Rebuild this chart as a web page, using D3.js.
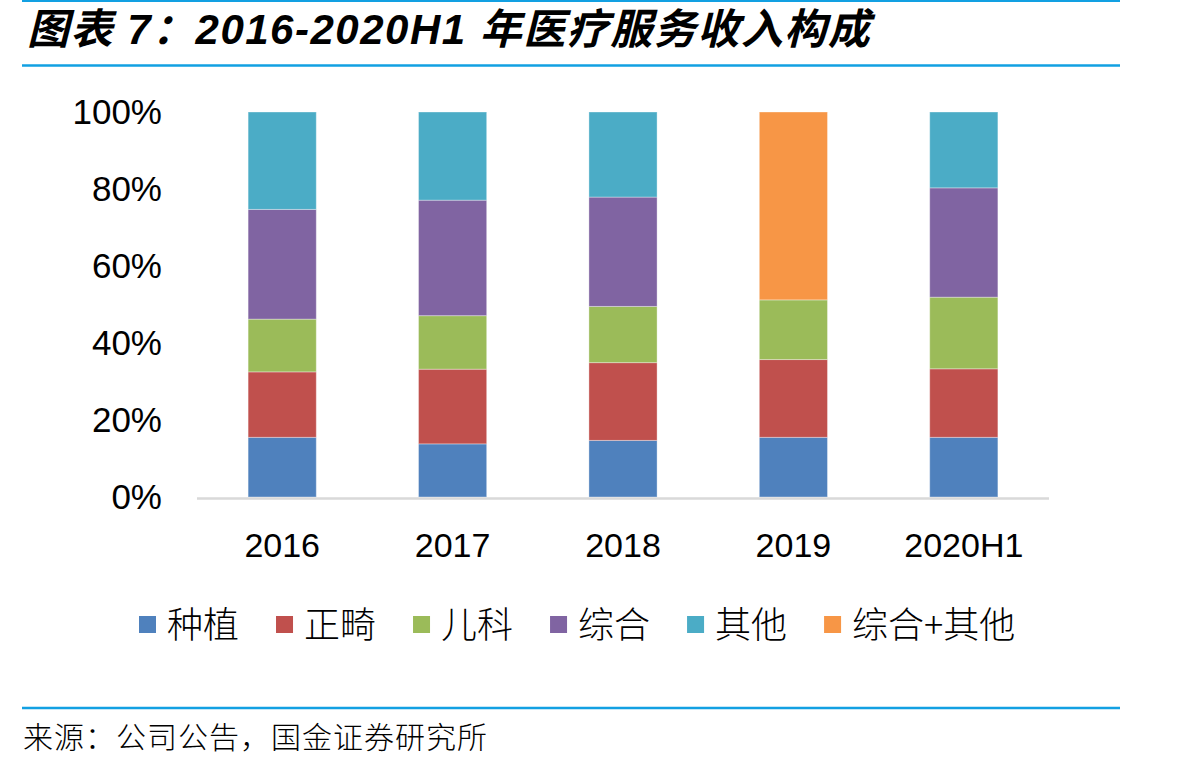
<!DOCTYPE html>
<html>
<head>
<meta charset="utf-8">
<script src="https://cdn.jsdelivr.net/npm/d3@7"></script>
<style>
  html, body { margin: 0; padding: 0; background: #fff; }
  svg { display: block; }
</style>
</head>
<body>
<svg id="chart" width="1201" height="763"></svg>
<script>
// ---- Data ----
const categories = ["2016", "2017", "2018", "2019", "2020H1"];
const seriesNames = ["种植", "正畸", "儿科", "综合", "其他", "综合+其他"];
const zhongzhi   = [15.5, 13.8, 14.7, 15.5, 15.5];
const zhengji    = [17.0, 19.4, 20.2, 20.2, 17.8];
const erke       = [13.7, 13.9, 14.6, 15.5, 18.6];
const zonghe     = [28.5, 30.0, 28.4, 0, 28.4];
const qita       = [25.3, 22.9, 22.1, 0, 19.7];
const zongheQita = [0, 0, 0, 48.8, 0];
const yTicks = [0, 20, 40, 60, 80, 100];
const colors = ["#4F81BD", "#C0504D", "#9BBB59", "#8064A2", "#4BACC6", "#F79646"];

const titleText = "图表 7：2016-2020H1 年医疗服务收入构成";
const sourceText = "来源：公司公告，国金证券研究所";

const seriesValues = [zhongzhi, zhengji, erke, zonghe, qita, zongheQita];
const table = categories.map((c, i) => {
  const row = { cat: c };
  seriesNames.forEach((s, j) => row[s] = seriesValues[j][i]);
  return row;
});

const svg = d3.select("#chart");
const lineColor = "#12A0E2";

// Header / footer lines
svg.append("line").attr("x1", 22).attr("x2", 1120).attr("y1", 1).attr("y2", 1)
  .attr("stroke", lineColor).attr("stroke-width", 2);
svg.append("line").attr("x1", 22).attr("x2", 1120).attr("y1", 65.5).attr("y2", 65.5)
  .attr("stroke", lineColor).attr("stroke-width", 2.5);
svg.append("line").attr("x1", 22).attr("x2", 1120).attr("y1", 708).attr("y2", 708)
  .attr("stroke", lineColor).attr("stroke-width", 2.5);

// Title
svg.append("text").attr("x", 27).attr("y", 44)
  .attr("font-style", "italic").attr("font-weight", "bold")
  .attr("font-size", 42).attr("fill", "#000")
  .attr("letter-spacing", 1.5)
  .attr("font-family", "'Liberation Sans', Arial, 'Noto Sans CJK SC', sans-serif")
  .text(titleText);

// Source
svg.append("text").attr("x", 23).attr("y", 748)
  .attr("font-size", 30).attr("fill", "#000")
  .attr("letter-spacing", 1)
  .attr("font-family", "'Noto Sans CJK SC', sans-serif")
  .attr("font-weight", 300)
  .text(sourceText);

// Scales
const x = d3.scaleBand().domain(categories).range([197, 1049])
  .paddingInner(0.6).paddingOuter(0.3);
const y = d3.scaleLinear().domain([0, 100]).range([497, 112]);
const color = d3.scaleOrdinal().domain(seriesNames).range(colors);

const stacked = d3.stack().keys(seriesNames)(table);

// Bars
svg.append("g").selectAll("g.series").data(stacked).join("g")
  .attr("class", "series")
  .attr("fill", d => color(d.key))
  .selectAll("rect").data(d => d.filter(p => p[1] - p[0] > 0)).join("rect")
  .attr("x", d => x(d.data.cat))
  .attr("width", x.bandwidth())
  .attr("y", d => y(d[1]))
  .attr("height", d => y(d[0]) - y(d[1]))
  .attr("stroke", "rgba(255,255,255,0.35)")
  .attr("stroke-width", 1);

// X baseline
svg.append("line").attr("x1", 197).attr("x2", 1049)
  .attr("y1", 498.5).attr("y2", 498.5)
  .attr("stroke", "#D9D9D9").attr("stroke-width", 2.5);

// Y axis
const yAxis = svg.append("g").attr("transform", "translate(162,0)")
  .call(d3.axisLeft(y).tickValues(yTicks).tickFormat(d => d + "%").tickSize(0).tickPadding(0));
yAxis.select(".domain").remove();
yAxis.selectAll("text").attr("font-size", 35).attr("fill", "#000")
  .attr("font-family", "'Liberation Sans', Arial, sans-serif");

// X axis labels
const xAxis = svg.append("g").attr("transform", "translate(0,497)")
  .call(d3.axisBottom(x).tickSize(0).tickPadding(36));
xAxis.select(".domain").remove();
xAxis.selectAll("text").attr("font-size", 34).attr("fill", "#000")
  .attr("font-family", "'Liberation Sans', Arial, sans-serif");

// Legend
const legend = svg.append("g");
let lx = 139;
seriesNames.forEach((name) => {
  const item = legend.append("g").attr("transform", `translate(${lx},0)`);
  item.append("rect").attr("x", 0).attr("y", 616).attr("width", 17).attr("height", 17)
    .attr("fill", color(name));
  const t = item.append("text").attr("x", 28).attr("y", 638)
    .attr("font-size", 36).attr("fill", "#000")
    .attr("font-family", "'Noto Sans CJK SC', sans-serif")
    .attr("font-weight", 300)
    .text(name);
  const w = t.node().getComputedTextLength();
  lx += 28 + w + 37;
});
</script>
</body>
</html>
